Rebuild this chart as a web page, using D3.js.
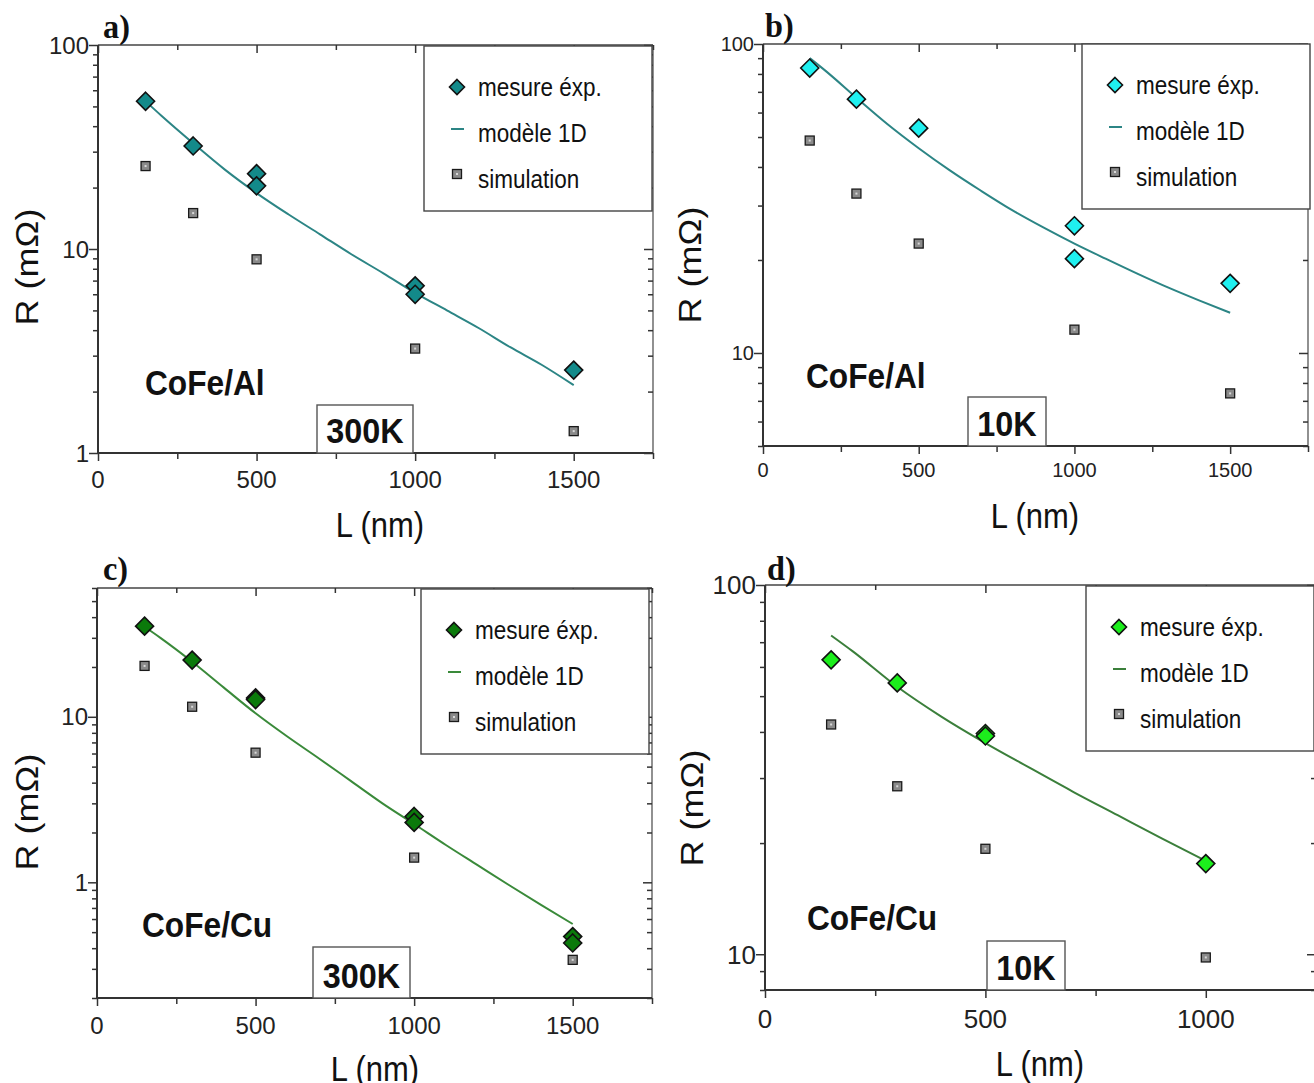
<!DOCTYPE html>
<html><head><meta charset="utf-8">
<script src="https://cdn.jsdelivr.net/npm/d3@7"></script>
<style>body{margin:0;background:#fff}svg{display:block}</style>
</head><body>
<svg id="c" width="1314" height="1083"></svg>
<script>
// ---------- DATA ----------
const panelNames = ["a)", "b)", "c)", "d)"];
const materials = ["CoFe/Al", "CoFe/Al", "CoFe/Cu", "CoFe/Cu"];
const temperatures = ["300K", "10K", "300K", "10K"];
const legendLabels = ["mesure éxp.", "modèle 1D", "simulation"];
const xAxisTitle = "L (nm)";
const yAxisTitle = "R (mΩ)";

// a) CoFe/Al 300K
const expL_a = [150, 300, 500, 500, 1000, 1000, 1500];
const expR_a = [53, 32, 23.4, 20.4, 6.6, 6.0, 2.55];
const simL_a = [150, 300, 500, 1000, 1500];
const simR_a = [25.5, 15, 8.9, 3.25, 1.28];
const modL_a = [150, 200, 300, 400, 500, 600, 700, 800, 900, 1000, 1100, 1200, 1300, 1400, 1500];
const modR_a = [53, 45, 33, 24.5, 18.8, 14.8, 11.8, 9.4, 7.6, 6.1, 5.0, 4.1, 3.3, 2.7, 2.15];

// b) CoFe/Al 10K
const expL_b = [150, 300, 500, 1000, 1000, 1500];
const expR_b = [83.6, 66.3, 53.4, 25.8, 20.2, 16.8];
const simL_b = [150, 300, 500, 1000, 1500];
const simR_b = [48.7, 32.8, 22.6, 11.9, 7.4];
const modL_b = [150, 200, 300, 400, 500, 600, 700, 800, 900, 1000, 1100, 1200, 1300, 1400, 1500];
const modR_b = [90, 82, 67, 55, 46, 39, 33.5, 29, 25.5, 22.6, 20.2, 18.1, 16.3, 14.8, 13.5];

// c) CoFe/Cu 300K
const expL_c = [150, 300, 500, 500, 1000, 1000, 1500, 1500];
const expR_c = [35.3, 22, 13, 12.7, 2.5, 2.3, 0.47, 0.43];
const simL_c = [150, 300, 500, 1000, 1500];
const simR_c = [20.3, 11.5, 6.07, 1.41, 0.34];
const modL_c = [150, 200, 300, 400, 500, 600, 700, 800, 900, 1000, 1100, 1200, 1300, 1400, 1500];
const modR_c = [35, 30, 21.5, 15, 10.5, 7.6, 5.6, 4.1, 3.0, 2.25, 1.68, 1.27, 0.96, 0.73, 0.56];

// d) CoFe/Cu 10K
const expL_d = [150, 300, 500, 500, 1000];
const expR_d = [62.7, 54.3, 39.6, 39.0, 17.6];
const simL_d = [150, 300, 500, 1000];
const simR_d = [41.9, 28.5, 19.3, 9.8];
const modL_d = [150, 200, 300, 400, 500, 600, 700, 800, 900, 1000];
const modR_d = [73, 66, 53, 44, 37.3, 32, 27.5, 23.8, 20.6, 17.9];

const xMaxes = [1750, 1750, 1750, 1250];
const yDomains = [[1, 100], [5, 100], [0.2, 60], [8, 100]];
const yLabelTicks = [[1, 10, 100], [10, 100], [1, 10], [10, 100]];
const xLabelTicks = [[0, 500, 1000, 1500], [0, 500, 1000, 1500], [0, 500, 1000, 1500], [0, 500, 1000]];
const expColors = ["#138a8a", "#1ff0f0", "#0b7a0b", "#1cee1c"];
const modColors = ["#2c8585", "#2c8585", "#3a8a3a", "#3b7f3b"];

// ---------- LAYOUT ----------
const layout = [
  {x0: 98, x1: 653, y0: 45, y1: 453, tickFs: 24, xLabDy: 35, lx: 424, ly: 46,
   matX: 145, matY: 395, box: [317, 405, 96, 48], labX: 103, labY: 38,
   yTitleX: 38, yTitleY: 267, xTitleX: 380, xTitleY: 537},
  {x0: 763, x1: 1308, y0: 44, y1: 446, tickFs: 20, xLabDy: 31, lx: 1082, ly: 44,
   matX: 806, matY: 388, box: [968, 397, 78, 49], labX: 765, labY: 37,
   yTitleX: 701, yTitleY: 265, xTitleX: 1035, xTitleY: 528},
  {x0: 97, x1: 652, y0: 588, y1: 998, tickFs: 24, xLabDy: 36, lx: 421, ly: 589,
   matX: 142, matY: 937, box: [313, 947, 97, 51], labX: 103, labY: 580,
   yTitleX: 38, yTitleY: 812, xTitleX: 375, xTitleY: 1081},
  {x0: 765, x1: 1316, y0: 585, y1: 990, tickFs: 26, xLabDy: 38, lx: 1086, ly: 586,
   matX: 807, matY: 930, box: [987, 941, 78, 49], labX: 767, labY: 580,
   yTitleX: 703, yTitleY: 808, xTitleX: 1040, xTitleY: 1076}
];

const data = [
  {expL: expL_a, expR: expR_a, simL: simL_a, simR: simR_a, modL: modL_a, modR: modR_a},
  {expL: expL_b, expR: expR_b, simL: simL_b, simR: simR_b, modL: modL_b, modR: modR_b},
  {expL: expL_c, expR: expR_c, simL: simL_c, simR: simR_c, modL: modL_c, modR: modR_c},
  {expL: expL_d, expR: expR_d, simL: simL_d, simR: simR_d, modL: modL_d, modR: modR_d}
];

const svg = d3.select("#c");
const SANS = "'Liberation Sans', Arial, sans-serif";
const SERIF = "'Liberation Serif', 'Times New Roman', serif";

function sq(g, x, y, sx, str, size, opts = {}) {
  const t = g.append("g").attr("transform", `translate(${x},${y}) scale(${sx},1)` + (opts.rot ? " rotate(-90)" : ""))
    .append("text").text(str)
    .attr("font-family", opts.family || SANS)
    .attr("font-size", size)
    .attr("font-weight", opts.bold ? "bold" : "normal")
    .attr("fill", "#111")
    .attr("text-anchor", opts.anchor || "start");
  return t;
}

function diamond(g, cx, cy, color, r) {
  g.append("path")
    .attr("d", `M${cx},${cy - r}L${cx + r},${cy}L${cx},${cy + r}L${cx - r},${cy}Z`)
    .attr("fill", color).attr("stroke", "#111").attr("stroke-width", 1.6);
}
function square(g, cx, cy) {
  g.append("rect").attr("x", cx - 4.5).attr("y", cy - 4.5).attr("width", 9).attr("height", 9)
    .attr("fill", "#8a8a8a").attr("stroke", "#1a1a1a").attr("stroke-width", 1.3);
  g.append("rect").attr("x", cx - 1).attr("y", cy - 1).attr("width", 2).attr("height", 2).attr("fill", "#d8d8d8");
}

function logMinors(dom) {
  const out = [];
  for (let e = Math.floor(Math.log10(dom[0])) - 1; e <= Math.ceil(Math.log10(dom[1])); e++) {
    for (let k = 1; k <= 9; k++) {
      const v = k * Math.pow(10, e);
      if (v >= dom[0] * 0.999 && v <= dom[1] * 1.001) out.push(v);
    }
  }
  return out;
}

layout.forEach((L, i) => {
  const D = data[i];
  const x = d3.scaleLinear().domain([0, xMaxes[i]]).range([L.x0, L.x1]);
  const y = d3.scaleLog().domain(yDomains[i]).range([L.y1, L.y0]);
  const g = svg.append("g");
  const axisColor = "#333";

  // frame (top, right)
  g.append("line").attr("x1", L.x0).attr("x2", L.x1).attr("y1", L.y0).attr("y2", L.y0).attr("stroke", "#444").attr("stroke-width", 1.6);
  g.append("line").attr("x1", L.x1).attr("x2", L.x1).attr("y1", L.y0).attr("y2", L.y1).attr("stroke", "#555").attr("stroke-width", 1.3);

  const xAll = d3.range(0, xMaxes[i] + 1, 250);
  const xMaj = xAll.filter(v => v % 500 === 0);
  const xMin = xAll.filter(v => v % 500 !== 0);
  const yMaj = yLabelTicks[i];
  const yMin = logMinors(yDomains[i]).filter(v => !yMaj.includes(v));

  const styleAxis = sel => { sel.select(".domain").remove(); sel.selectAll("line").attr("stroke", axisColor).attr("stroke-width", 1.5); sel.selectAll("text").remove(); };

  // bottom
  g.append("g").attr("transform", `translate(0,${L.y1})`).call(d3.axisBottom(x).tickValues(xMaj).tickSize(8)).call(styleAxis);
  g.append("g").attr("transform", `translate(0,${L.y1})`).call(d3.axisBottom(x).tickValues(xMin).tickSize(6)).call(styleAxis);
  // top (inward)
  g.append("g").attr("transform", `translate(0,${L.y0})`).call(d3.axisBottom(x).tickValues(xMaj).tickSize(8)).call(styleAxis);
  g.append("g").attr("transform", `translate(0,${L.y0})`).call(d3.axisBottom(x).tickValues(xMin).tickSize(5)).call(styleAxis);
  // left
  g.append("g").attr("transform", `translate(${L.x0},0)`).call(d3.axisLeft(y).tickValues(yMaj).tickSize(9)).call(styleAxis);
  g.append("g").attr("transform", `translate(${L.x0},0)`).call(d3.axisLeft(y).tickValues(yMin).tickSize(5)).call(styleAxis);
  // right (inward)
  g.append("g").attr("transform", `translate(${L.x1},0)`).call(d3.axisLeft(y).tickValues(yMaj).tickSize(9)).call(styleAxis);
  g.append("g").attr("transform", `translate(${L.x1},0)`).call(d3.axisLeft(y).tickValues(yMin).tickSize(5)).call(styleAxis);

  // axis lines
  g.append("line").attr("x1", L.x0).attr("x2", L.x1).attr("y1", L.y1).attr("y2", L.y1).attr("stroke", axisColor).attr("stroke-width", 2);
  g.append("line").attr("x1", L.x0).attr("x2", L.x0).attr("y1", L.y0).attr("y2", L.y1).attr("stroke", axisColor).attr("stroke-width", 2);

  // tick labels
  xLabelTicks[i].forEach(v => {
    g.append("text").text(v).attr("x", x(v)).attr("y", L.y1 + L.xLabDy)
      .attr("text-anchor", "middle").attr("font-family", SANS).attr("font-size", L.tickFs).attr("fill", "#222");
  });
  yLabelTicks[i].forEach(v => {
    g.append("text").text(v).attr("x", L.x0 - 9).attr("y", y(v)).attr("dy", "0.36em")
      .attr("text-anchor", "end").attr("font-family", SANS).attr("font-size", L.tickFs).attr("fill", "#222");
  });

  // model line
  const pts = D.modL.map((l, k) => [l, D.modR[k]]);
  g.append("path").datum(pts)
    .attr("d", d3.line().x(d => x(d[0])).y(d => y(d[1])).curve(d3.curveMonotoneX))
    .attr("fill", "none").attr("stroke", modColors[i]).attr("stroke-width", 2);

  // simulation
  D.simL.forEach((l, k) => square(g, x(l), y(D.simR[k])));
  // experiments
  D.expL.forEach((l, k) => diamond(g, x(l), y(D.expR[k]), expColors[i], 9));

  // legend
  const lw = 228, lh = 165;
  g.append("rect").attr("x", L.lx).attr("y", L.ly).attr("width", lw).attr("height", lh)
    .attr("fill", "#fff").attr("stroke", "#444").attr("stroke-width", 1.4);
  const rows = [L.ly + 42, L.ly + 88, L.ly + 134];
  diamond(g, L.lx + 33, rows[0] - 1, expColors[i], 7.5);
  g.append("line").attr("x1", L.lx + 27).attr("x2", L.lx + 40).attr("y1", rows[1] - 5).attr("y2", rows[1] - 5)
    .attr("stroke", modColors[i]).attr("stroke-width", 2);
  square(g, L.lx + 33, rows[2] - 6);
  legendLabels.forEach((t, k) => {
    sq(g, L.lx + 54, rows[k] + 8, 0.9, t, 25);
  });

  // material label
  sq(g, L.matX, L.matY, 0.88, materials[i], 36, {bold: true});
  // temperature box
  g.append("rect").attr("x", L.box[0]).attr("y", L.box[1]).attr("width", L.box[2]).attr("height", L.box[3])
    .attr("fill", "#fff").attr("stroke", "#555").attr("stroke-width", 1.4);
  sq(g, L.box[0] + L.box[2] / 2, L.box[1] + L.box[3] - 10, 0.9, temperatures[i], 36, {bold: true, anchor: "middle"});

  // panel label
  sq(g, L.labX, L.labY, 0.95, panelNames[i], 34, {bold: true, family: SERIF});

  // axis titles
  sq(g, L.xTitleX, L.xTitleY, 0.86, xAxisTitle, 36, {anchor: "middle"});
  sq(g, L.yTitleX, L.yTitleY, 0.86, yAxisTitle, 36, {anchor: "middle", rot: true});
});
</script>
</body></html>
